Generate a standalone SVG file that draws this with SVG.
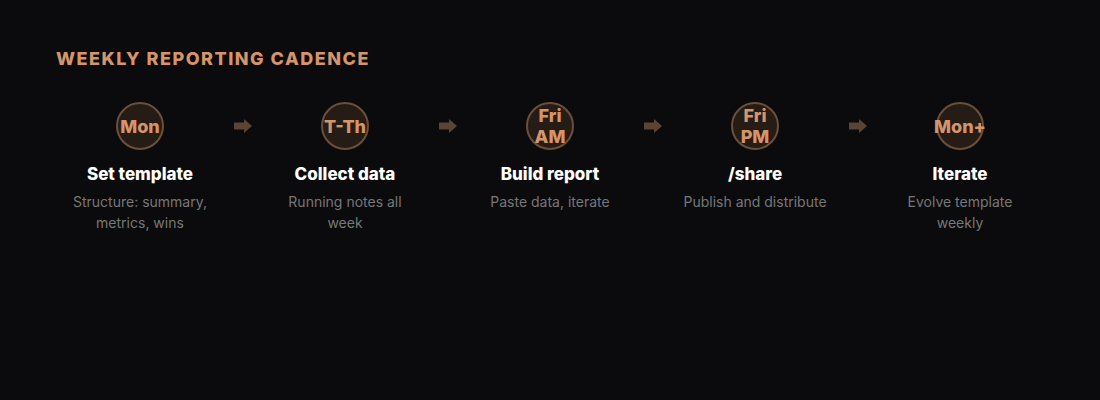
<svg xmlns="http://www.w3.org/2000/svg" width="1100" height="400" viewBox="0 0 1100 400">
<style>
.title{font-family:Inter,"Noto Sans",sans-serif;font-weight:800;font-size:18px;letter-spacing:1.5px;fill:#d4956a}
.circ{fill:#261c16;stroke:#6b4f3a;stroke-width:2}
.day{font-family:Inter,"Noto Sans",sans-serif;font-weight:800;font-size:18px;fill:#d4956a;text-anchor:middle}
.lbl{font-family:Inter,"Noto Sans",sans-serif;font-weight:800;font-size:17px;fill:#ffffff;text-anchor:middle}
.desc{font-family:Inter,"Noto Sans",sans-serif;font-size:14px;fill:#777777;text-anchor:middle}
.arr{fill:#5a4535}
</style>
<rect width="1100" height="400" fill="#0b0b0d"/>
<text class="title" x="56" y="65">WEEKLY REPORTING CADENCE</text>
<g id="connectors">
<path class="arr" d="M234 122.5h10v-3.5l8 7-8 7v-3.5h-10z"/>
<path class="arr" d="M439 122.5h10v-3.5l8 7-8 7v-3.5h-10z"/>
<path class="arr" d="M644 122.5h10v-3.5l8 7-8 7v-3.5h-10z"/>
<path class="arr" d="M849 122.5h10v-3.5l8 7-8 7v-3.5h-10z"/>
</g>
<g id="step-mon">
<circle class="circ" cx="140" cy="126" r="23"/>
<text class="day" x="140" y="132.5">Mon</text>
<text class="lbl" x="140" y="180">Set template</text>
<text class="desc" x="140" y="207">Structure: summary,</text>
<text class="desc" x="140" y="228">metrics, wins</text>
</g>
<g id="step-tth">
<circle class="circ" cx="345" cy="126" r="23"/>
<text class="day" x="345" y="132.5">T-Th</text>
<text class="lbl" x="345" y="180">Collect data</text>
<text class="desc" x="345" y="207">Running notes all</text>
<text class="desc" x="345" y="228">week</text>
</g>
<g id="step-friam">
<circle class="circ" cx="550" cy="126" r="23"/>
<text class="day" x="550" y="122">Fri</text>
<text class="day" x="550" y="143">AM</text>
<text class="lbl" x="550" y="180">Build report</text>
<text class="desc" x="550" y="207">Paste data, iterate</text>
</g>
<g id="step-fripm">
<circle class="circ" cx="755" cy="126" r="23"/>
<text class="day" x="755" y="122">Fri</text>
<text class="day" x="755" y="143">PM</text>
<text class="lbl" x="755" y="180">/share</text>
<text class="desc" x="755" y="207">Publish and distribute</text>
</g>
<g id="step-monplus">
<circle class="circ" cx="960" cy="126" r="23"/>
<text class="day" x="960" y="132.5">Mon+</text>
<text class="lbl" x="960" y="180">Iterate</text>
<text class="desc" x="960" y="207">Evolve template</text>
<text class="desc" x="960" y="228">weekly</text>
</g>
</svg>
